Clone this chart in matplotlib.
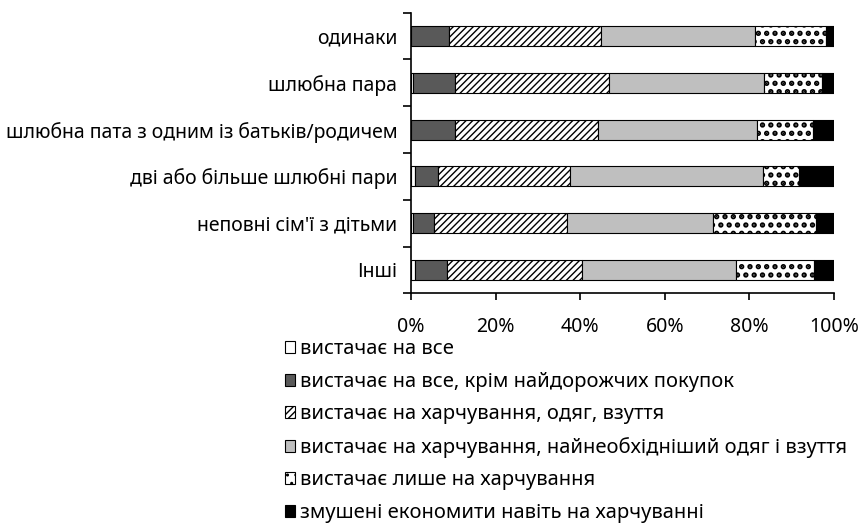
import matplotlib.pyplot as plt
import numpy as np

plt.rcParams['font.family'] = ['Noto Sans', 'DejaVu Sans']

groups = ['одинаки', 'шлюбна пара', 'шлюбна пата з одним із батьків/родичем',
          'дві або більше шлюбні пари', 'неповні сім\'ї з дітьми', 'Інші']

categories = ['вистачає на все',
              'вистачає на все, крім найдорожчих покупок',
              'вистачає на харчування, одяг, взуття',
              'вистачає на харчування, найнеобхідніший одяг і взуття',
              'вистачає лише на харчування',
              'змушені економити навіть на харчуванні']

# частки (%) по кожній групі домогосподарств
all_ok = [0.0, 0.4, 0.0, 1.0, 0.4, 1.0]
except_expensive = [8.9, 9.9, 10.3, 5.3, 5.1, 7.5]
food_clothes = [36.1, 36.5, 33.9, 31.3, 31.3, 32.0]
food_basic = [36.3, 36.7, 37.5, 45.5, 34.5, 36.3]
food_only = [16.8, 13.7, 13.4, 8.6, 24.4, 18.5]
save_food = [1.9, 2.8, 4.9, 8.3, 4.3, 4.7]

series = [all_ok, except_expensive, food_clothes, food_basic, food_only, save_food]
colors = ['white', '#595959', 'white', '#bfbfbf', 'white', 'black']
hatches = [None, None, '/////', None, '..', None]

fig = plt.figure(figsize=(8.61, 5.23), dpi=100)
ax = fig.add_axes([0.4774, 0.4392, 0.4913, 0.5365])

y = np.arange(len(groups))
left = np.zeros(len(groups))
for vals, col, h, lab in zip(series, colors, hatches, categories):
    vals = np.array(vals)
    bars = ax.barh(y, vals, left=left, height=0.43, color=col, edgecolor='black',
                   linewidth=0.8, hatch=h, label=lab)
    if h == '..':
        for b in bars:
            b.set_hatch_linewidth(2.6)
    left += vals

ax.set_xlim(0, 100)
ax.set_ylim(len(groups) - 0.5, -0.5)
ax.set_xticks(range(0, 101, 20))
ax.set_xticklabels([f'{t}%' for t in range(0, 101, 20)])
ax.set_yticks(y)
ax.set_yticklabels(groups)
ax.set_yticks(np.arange(-0.5, len(groups)), minor=True)

ax.tick_params(axis='x', direction='out', length=5, width=1.2, pad=12, labelsize=14)
ax.tick_params(axis='y', which='major', length=0, pad=10, labelsize=14)
ax.tick_params(axis='y', which='minor', direction='out', length=5.5, width=1.2)

for s in ['top', 'right']:
    ax.spines[s].set_visible(False)
for s in ['left', 'bottom']:
    ax.spines[s].set_linewidth(1.2)

handles, labels = ax.get_legend_handles_labels()
fig.legend(handles, labels, loc='upper left', bbox_to_anchor=(0.331, 0.351),
           frameon=False, fontsize=14.5, handlelength=0.52, handleheight=0.52,
           handletextpad=0.25, labelspacing=0.62, borderpad=0, borderaxespad=0)

fig.savefig('out.png', dpi=100)
